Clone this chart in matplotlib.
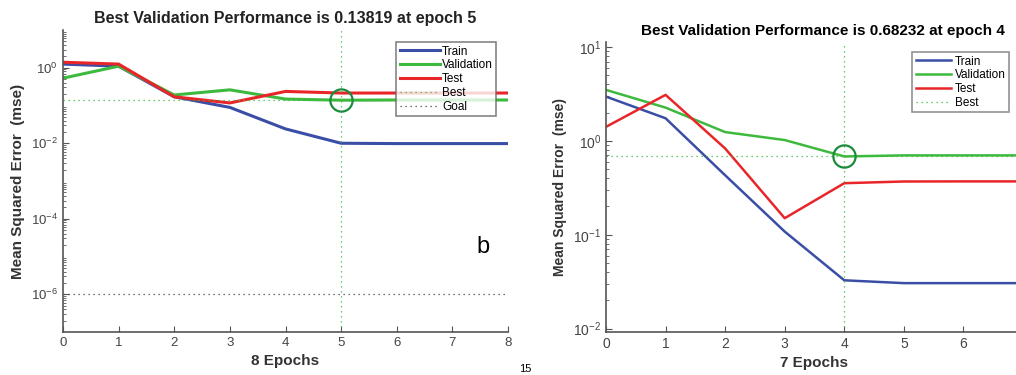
import numpy as np
import matplotlib
matplotlib.use("Agg")
import matplotlib.pyplot as plt

# left panel (b) - 8 epochs
ep_b = [0, 1, 2, 3, 4, 5, 6, 7, 8]
train_b = [1.25, 1.1, 0.17, 0.089, 0.024, 0.0100, 0.0098, 0.0098, 0.0098]
val_b = [0.53, 1.1, 0.19, 0.26, 0.148, 0.13819, 0.14, 0.14, 0.14]
test_b = [1.4, 1.25, 0.17, 0.117, 0.236, 0.214, 0.214, 0.214, 0.214]
best_b = (5, 0.13819)
goal_b = 1e-6

# right panel - 7 epochs
ep_r = [0, 1, 2, 3, 4, 5, 6, 7]
train_r = [2.96, 1.74, 0.43, 0.108, 0.0327, 0.0305, 0.0305, 0.0305]
val_r = [3.49, 2.26, 1.24, 1.02, 0.68232, 0.70, 0.70, 0.70]
test_r = [1.41, 3.09, 0.83, 0.15, 0.354, 0.369, 0.37, 0.37]
best_r = (4, 0.68232)

BLUE = "#3b4ea6"
GREEN = "#3dba3d"
RED = "#e8262a"
DKGREEN = "#1b8c3c"
TXT = "#222222"

plt.rcParams['font.family'] = ['Liberation Sans', 'DejaVu Sans']

fig = plt.figure(figsize=(10.16, 3.75), dpi=100)
W, H = 1016, 375


def box(l, t, r, b):
    return [l / W, 1 - b / H, (r - l) / W, (b - t) / H]


def style(ax):
    for s in ['top', 'right']:
        ax.spines[s].set_visible(False)
    for s in ['left', 'bottom']:
        ax.spines[s].set_color('#555555')
        ax.spines[s].set_linewidth(1.2)
    ax.tick_params(which='both', direction='in', colors='#555555', labelcolor='#444444', labelsize=9.5)
    ax.tick_params(which='major', length=4)
    ax.tick_params(which='minor', length=2)


# ---- left panel
ax1 = fig.add_axes(box(63, 30, 508, 332))
ax1.plot(ep_b, train_b, c=BLUE, lw=2.2, label='Train')
ax1.plot(ep_b, val_b, c=GREEN, lw=2.2, label='Validation')
ax1.plot(ep_b, test_b, c=RED, lw=2.2, label='Test')
ax1.axhline(best_b[1], c=GREEN, lw=0.9, ls=(0, (1, 3)), label='Best')
ax1.axvline(best_b[0], c=GREEN, lw=0.9, ls=(0, (1, 3)))
ax1.axhline(goal_b, c='#444444', lw=0.9, ls=(0, (1, 3)), label='Goal')
ax1.plot([best_b[0]], [best_b[1]], 'o', ms=16, mfc='none', mec=DKGREEN, mew=1.6)
ax1.set_yscale('log')
ax1.set_ylim(1e-7, 1e1)
ax1.set_xlim(0, 8)
ax1.set_xticks(ep_b)
ax1.set_yticks([1e-6, 1e-4, 1e-2, 1e0])
ax1.yaxis.set_minor_locator(matplotlib.ticker.LogLocator(base=10, subs=np.arange(2, 10), numticks=20))
ax1.yaxis.set_minor_formatter(matplotlib.ticker.NullFormatter())
style(ax1)
ax1.set_title("Best Validation Performance is 0.13819 at epoch 5", fontsize=11.5,
              fontweight='bold', color=TXT, pad=5)
ax1.set_xlabel("8 Epochs", fontsize=11, fontweight='bold', color='#333333', labelpad=4)
ax1.set_ylabel("Mean Squared Error  (mse)", fontsize=11, fontweight='bold', color='#333333', labelpad=4)
leg1 = ax1.legend(loc='upper right', bbox_to_anchor=(0.974, 0.96), fontsize=8.5, frameon=True,
                  fancybox=False, edgecolor='#666666', handlelength=3.4, handletextpad=0.2,
                  labelspacing=0.15, borderpad=0.3, borderaxespad=0)
leg1.get_frame().set_linewidth(1.2)
ax1.text(0.93, 0.26, "b", transform=ax1.transAxes, fontsize=17, color='black')

# ---- right panel
ax2 = fig.add_axes(box(606, 42, 1023, 332))
ax2.plot(ep_r, train_r, c=BLUE, lw=1.8, label='Train')
ax2.plot(ep_r, val_r, c=GREEN, lw=1.8, label='Validation')
ax2.plot(ep_r, test_r, c=RED, lw=1.8, label='Test')
ax2.axhline(best_r[1], c=GREEN, lw=0.9, ls=(0, (1, 3)), label='Best')
ax2.axvline(best_r[0], c=GREEN, lw=0.9, ls=(0, (1, 3)))
ax2.plot([best_r[0]], [best_r[1]], 'o', ms=16, mfc='none', mec=DKGREEN, mew=1.6)
ax2.set_yscale('log')
ax2.set_ylim(0.0092, 11.3)
ax2.set_xlim(0, 7)
ax2.set_xticks(ep_r[:-1])
ax2.set_yticks([1e-2, 1e-1, 1e0, 1e1])
ax2.yaxis.set_minor_locator(matplotlib.ticker.LogLocator(base=10, subs=np.arange(2, 10), numticks=20))
ax2.yaxis.set_minor_formatter(matplotlib.ticker.NullFormatter())
style(ax2)
ax2.tick_params(labelsize=10)
ax2.set_title("Best Validation Performance is 0.68232 at epoch 4", fontsize=11,
              fontweight='bold', color='black', pad=5, x=0.52)
ax2.set_xlabel("7 Epochs", fontsize=11, fontweight='bold', color='#333333', labelpad=4)
ax2.set_ylabel("Mean Squared Error  (mse)", fontsize=10, fontweight='bold', color='#333333', labelpad=4)
leg2 = fig.legend(*ax2.get_legend_handles_labels(), loc='upper right',
                  bbox_to_anchor=(1009 / W, 1 - 52 / H), fontsize=8.5, frameon=True,
                  fancybox=False, edgecolor='#777777', handlelength=3.0, handletextpad=0.3,
                  labelspacing=0.15, borderpad=0.3, borderaxespad=0)
leg2.get_frame().set_linewidth(1.2)

# page number at the bottom
fig.text(525 / W, 1 / H, "15", fontsize=8, ha='center', va='bottom', color='black')

plt.savefig("out.png", dpi=100)
